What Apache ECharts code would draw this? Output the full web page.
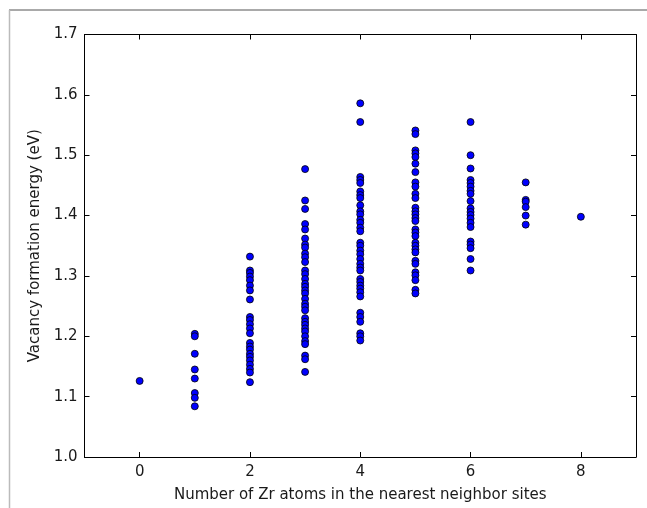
<!DOCTYPE html>
<html>
<head>
<meta charset="utf-8">
<script src="https://cdn.jsdelivr.net/npm/echarts@6/dist/echarts.min.js"></script>
<style>
html,body{margin:0;padding:0;background:#fff;}
#c{width:647px;height:508px;}
</style>
</head>
<body>
<div id="c"></div>
<script>
// Number of Zr atoms (x categories)
const zrCounts = [0, 1, 2, 3, 4, 5, 6, 7, 8];
// Vacancy formation energies (eV) for each Zr count
const e0 = [1.126];
const e1 = [1.204, 1.200, 1.171, 1.145, 1.130, 1.106, 1.098, 1.084];
const e2 = [1.332, 1.309, 1.305, 1.299, 1.293, 1.284, 1.276, 1.261, 1.232, 1.227, 1.220, 1.213, 1.205, 1.189, 1.183, 1.178, 1.171, 1.166, 1.160, 1.153, 1.146, 1.140, 1.124];
const e3 = [1.477, 1.425, 1.411, 1.386, 1.377, 1.362, 1.352, 1.347, 1.337, 1.331, 1.323, 1.309, 1.303, 1.295, 1.287, 1.282, 1.276, 1.271, 1.262, 1.254, 1.249, 1.243, 1.230, 1.224, 1.219, 1.213, 1.208, 1.200, 1.192, 1.187, 1.168, 1.162, 1.141];
const e4 = [1.586, 1.555, 1.464, 1.459, 1.454, 1.440, 1.434, 1.429, 1.417, 1.407, 1.402, 1.393, 1.388, 1.380, 1.374, 1.355, 1.350, 1.342, 1.336, 1.328, 1.320, 1.314, 1.309, 1.295, 1.290, 1.284, 1.279, 1.273, 1.266, 1.239, 1.232, 1.224, 1.205, 1.200, 1.193];
const e5 = [1.541, 1.535, 1.508, 1.503, 1.497, 1.486, 1.472, 1.455, 1.448, 1.436, 1.429, 1.413, 1.407, 1.402, 1.396, 1.391, 1.377, 1.372, 1.366, 1.355, 1.350, 1.344, 1.339, 1.325, 1.320, 1.306, 1.301, 1.293, 1.277, 1.271];
const e6 = [1.555, 1.500, 1.478, 1.459, 1.454, 1.448, 1.441, 1.436, 1.424, 1.412, 1.406, 1.401, 1.395, 1.388, 1.381, 1.357, 1.352, 1.346, 1.328, 1.309];
const e7 = [1.455, 1.426, 1.423, 1.414, 1.400, 1.385];
const e8 = [1.398];
const energyGroups = [e0, e1, e2, e3, e4, e5, e6, e7, e8];
const xTicks = [0, 2, 4, 6, 8];
const yTicks = [1.0, 1.1, 1.2, 1.3, 1.4, 1.5, 1.6, 1.7];

const points = [];
zrCounts.forEach((n, i) => energyGroups[i].forEach(v => points.push([n, v])));

const font = 'DejaVu Sans';
const txt = '#1a1a1a';
const chart = echarts.init(document.getElementById('c'), null, {renderer: 'canvas'});
const lineStyle = {color: '#000', width: 1};
chart.setOption({
  animation: false,
  backgroundColor: '#fff',
  grid: {left: 84.5, top: 34.5, right: 11, bottom: 46, containLabel: false},
  graphic: [
    {type: 'line', shape: {x1: 9, y1: 10, x2: 647, y2: 10}, style: {stroke: '#555', lineWidth: 1}},
    {type: 'line', shape: {x1: 9.5, y1: 10, x2: 9.5, y2: 508}, style: {stroke: '#bbb', lineWidth: 1.5}}
  ],
  xAxis: [{
    type: 'value', min: -1, max: 9, position: 'bottom',
    axisLine: {show: true, onZero: false, lineStyle},
    axisTick: {show: true, inside: true, length: 5, lineStyle, customValues: xTicks},
    axisLabel: {show: true, customValues: xTicks, color: txt, fontFamily: font, fontSize: 15, margin: 8},
    splitLine: {show: false},
    name: 'Number of Zr atoms in the nearest neighbor sites',
    nameLocation: 'middle', nameGap: 31,
    nameTextStyle: {color: txt, fontFamily: font, fontSize: 15}
  }, {
    type: 'value', min: -1, max: 9, position: 'top',
    axisLine: {show: true, onZero: false, lineStyle},
    axisTick: {show: true, inside: true, length: 5, lineStyle, customValues: xTicks},
    axisLabel: {show: false}, splitLine: {show: false}
  }],
  yAxis: [{
    type: 'value', min: 1.0, max: 1.7, position: 'left',
    axisLine: {show: true, onZero: false, lineStyle},
    axisTick: {show: true, inside: true, length: 5, lineStyle, customValues: yTicks},
    axisLabel: {show: true, customValues: yTicks, color: txt, fontFamily: font, fontSize: 15, margin: 7,
      formatter: v => v.toFixed(1)},
    splitLine: {show: false},
    name: 'Vacancy formation energy (eV)',
    nameLocation: 'middle', nameGap: 34,
    nameTextStyle: {color: txt, fontFamily: font, fontSize: 15}
  }, {
    type: 'value', min: 1.0, max: 1.7, position: 'right',
    axisLine: {show: true, onZero: false, lineStyle},
    axisTick: {show: true, inside: true, length: 5, lineStyle, customValues: yTicks},
    axisLabel: {show: false}, splitLine: {show: false}
  }],
  series: [{
    type: 'scatter',
    xAxisIndex: 0, yAxisIndex: 0,
    data: points,
    symbol: 'circle',
    symbolSize: 7,
    itemStyle: {color: '#0000ff', borderColor: '#000', borderWidth: 0.8, opacity: 1}
  }]
});
</script>
</body>
</html>
